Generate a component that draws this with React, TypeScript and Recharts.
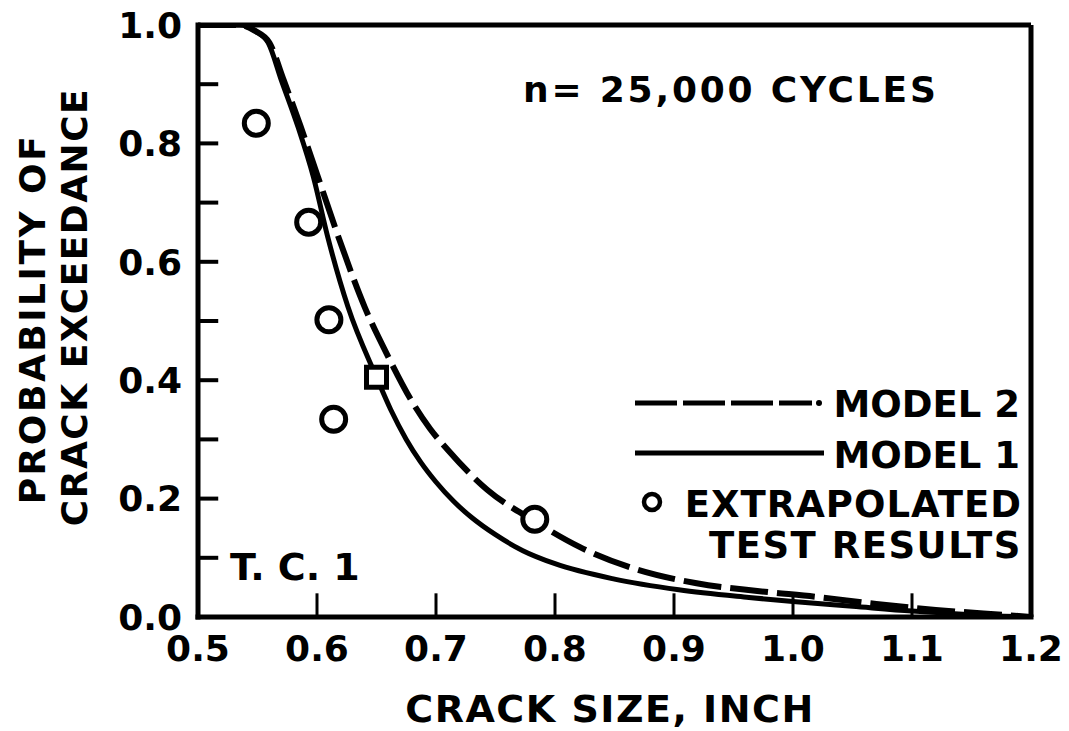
import React from "react";
import {
  ComposedChart,
  Line,
  Scatter,
  XAxis,
  YAxis,
  ReferenceLine,
} from "recharts";

// ---- Data ----
const model1X = [0.5, 0.535, 0.548, 0.559, 0.57, 0.584, 0.597, 0.609, 0.626, 0.65, 0.662, 0.675, 0.687, 0.70, 0.715, 0.73, 0.75, 0.773, 0.80, 0.85, 0.904, 0.963, 1.0, 1.05, 1.1, 1.15, 1.2];
const model1Y = [1.0, 1.0, 0.99, 0.97, 0.907, 0.828, 0.743, 0.642, 0.524, 0.405, 0.35, 0.30, 0.262, 0.228, 0.195, 0.168, 0.139, 0.112, 0.09, 0.064, 0.046, 0.033, 0.026, 0.018, 0.01, 0.004, 0.0];

const model2X = [0.5, 0.535, 0.548, 0.56, 0.572, 0.586, 0.6, 0.618, 0.64, 0.66, 0.681, 0.695, 0.71, 0.743, 0.781, 0.821, 0.863, 0.919, 0.97, 1.02, 1.07, 1.12, 1.16, 1.2];
const model2Y = [1.0, 1.0, 0.99, 0.97, 0.907, 0.83, 0.748, 0.642, 0.524, 0.439, 0.36, 0.318, 0.282, 0.215, 0.164, 0.118, 0.084, 0.057, 0.044, 0.034, 0.022, 0.012, 0.006, 0.0];

const testX = [0.549, 0.593, 0.61, 0.614, 0.783];
const testY = [0.834, 0.667, 0.502, 0.334, 0.165];

const squareX = [0.65];
const squareY = [0.405];

const xTicks = [0.5, 0.6, 0.7, 0.8, 0.9, 1.0, 1.1, 1.2];
const yTicks = [0.0, 0.2, 0.4, 0.6, 0.8, 1.0];
const xInnerTicks = [0.6, 0.7, 0.8, 0.9, 1.0, 1.1];
const yInnerTicks = [0.1, 0.2, 0.3, 0.4, 0.5, 0.6, 0.7, 0.8, 0.9];

const model1Data = model1X.map((x, i) => ({ x, y: model1Y[i] }));
const model2Data = model2X.map((x, i) => ({ x, y: model2Y[i] }));
const testData = testX.map((x, i) => ({ x, y: testY[i] }));
const squareData = squareX.map((x, i) => ({ x, y: squareY[i] }));

const FONT = "'DejaVu Sans', sans-serif";
const tickStyle = { fontFamily: FONT, fontWeight: 700, fontSize: 36, fill: "#000" };

const CircleShape = (p: any) => (
  <circle cx={p.cx} cy={p.cy} r={12} fill="#fff" stroke="#000" strokeWidth={5} />
);
const SquareShape = (p: any) => (
  <rect x={p.cx - 10} y={p.cy - 10} width={20} height={20} fill="#fff" stroke="#000" strokeWidth={5} />
);

export default function App() {
  return (
    <div style={{ position: "absolute", left: 0, top: 0, width: 1069, height: 731, background: "#fff" }}>
      <ComposedChart
        width={1069}
        height={731}
        margin={{ top: 25, right: 38, left: 0, bottom: 0 }}
      >
        <XAxis
          type="number"
          dataKey="x"
          domain={[0.5, 1.2]}
          ticks={xTicks}
          tickFormatter={(v: number) => v.toFixed(1)}
          allowDataOverflow
          height={114}
          axisLine={{ stroke: "#000", strokeWidth: 5, strokeLinecap: "square" }}
          tickLine={false}
          tickSize={0}
          tickMargin={18}
          tick={tickStyle}
          interval={0}
        />
        <YAxis
          type="number"
          dataKey="y"
          domain={[0, 1]}
          ticks={yTicks}
          tickFormatter={(v: number) => v.toFixed(1)}
          allowDataOverflow
          width={198}
          axisLine={{ stroke: "#000", strokeWidth: 5, strokeLinecap: "square" }}
          tickLine={false}
          tickSize={0}
          tickMargin={16}
          tick={tickStyle}
          interval={0}
        />
        <ReferenceLine y={1} stroke="#000" strokeWidth={5} ifOverflow="visible" />
        <ReferenceLine x={1.2} stroke="#000" strokeWidth={5} ifOverflow="visible" />
        {xInnerTicks.map((v) => (
          <ReferenceLine
            key={"xt" + v}
            segment={[{ x: v, y: 0 }, { x: v, y: 0.04 }]}
            stroke="#000"
            strokeWidth={3}
            ifOverflow="visible"
          />
        ))}
        {yInnerTicks.map((v) => (
          <ReferenceLine
            key={"yt" + v}
            segment={[{ x: 0.5, y: v }, { x: 0.517, y: v }]}
            stroke="#000"
            strokeWidth={4}
            ifOverflow="visible"
          />
        ))}
        <Line
          data={model1Data}
          dataKey="y"
          type="monotone"
          stroke="#000"
          strokeWidth={5}
          dot={false}
          activeDot={false}
          isAnimationActive={false}
        />
        <Line
          data={model2Data}
          dataKey="y"
          type="monotone"
          stroke="#000"
          strokeWidth={6}
          strokeDasharray="38 9"
          dot={false}
          activeDot={false}
          isAnimationActive={false}
        />
        <Scatter data={testData} dataKey="y" shape={CircleShape} isAnimationActive={false} />
        <Scatter data={squareData} dataKey="y" shape={SquareShape} isAnimationActive={false} />
      </ComposedChart>
      <svg
        width={1069}
        height={731}
        style={{ position: "absolute", left: 0, top: 0, pointerEvents: "none" }}
      >
        <g fontFamily={FONT} fontWeight={700} fill="#000">
          <text x={523} y={102} fontSize={36} letterSpacing={2.8}>n= 25,000 CYCLES</text>
          <text x={230} y={580} fontSize={38}>T. C. 1</text>
          <text x={1020} y={417} fontSize={37} textAnchor="end">MODEL 2</text>
          <text x={1020} y={468} fontSize={37} textAnchor="end">MODEL 1</text>
          <text x={1022} y={517} fontSize={37} textAnchor="end" letterSpacing={1}>EXTRAPOLATED</text>
          <text x={1022} y={558} fontSize={37} textAnchor="end" letterSpacing={1.5}>TEST RESULTS</text>
          <text x={610} y={722} fontSize={38} textAnchor="middle" letterSpacing={1.5}>CRACK SIZE, INCH</text>
          <text
            x={45}
            y={319}
            fontSize={36}
            textAnchor="middle"
            letterSpacing={2.5}
            transform="rotate(-90 45 319)"
          >
            PROBABILITY OF
          </text>
          <text
            x={87}
            y={307}
            fontSize={36}
            textAnchor="middle"
            letterSpacing={1.5}
            transform="rotate(-90 87 307)"
          >
            CRACK EXCEEDANCE
          </text>
        </g>
        <line x1={635} y1={403} x2={812} y2={403} stroke="#000" strokeWidth={5} strokeDasharray="42 6" />
        <circle cx={819} cy={403} r={3} fill="#000" />
        <line x1={635} y1={453} x2={824} y2={453} stroke="#000" strokeWidth={5} />
        <circle cx={652} cy={502} r={8} fill="#fff" stroke="#000" strokeWidth={4.5} />
      </svg>
    </div>
  );
}
